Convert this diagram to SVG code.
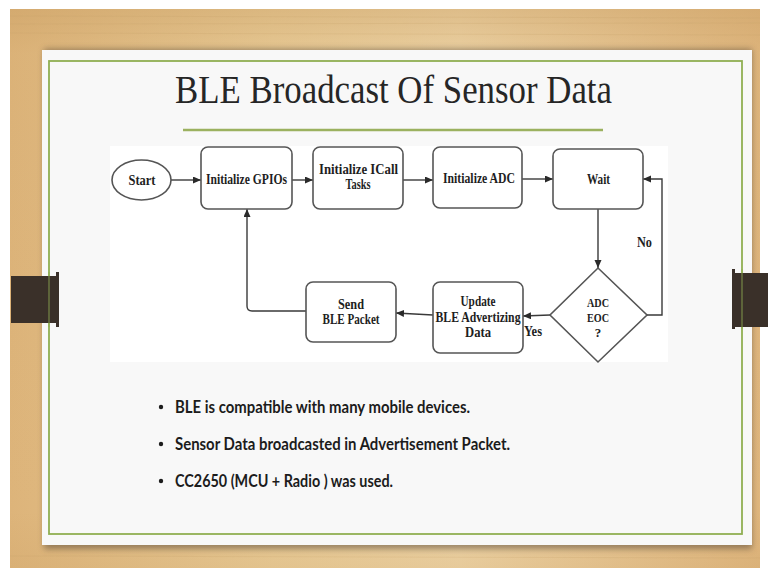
<svg xmlns="http://www.w3.org/2000/svg" width="770" height="578" viewBox="0 0 770 578">
  <defs>
    <linearGradient id="wood" x1="0" y1="0" x2="1" y2="0">
      <stop offset="0" stop-color="#ddb47a"/>
      <stop offset="0.35" stop-color="#e9cc98"/>
      <stop offset="0.6" stop-color="#eed5a8"/>
      <stop offset="1" stop-color="#dfb67e"/>
    </linearGradient>
    <linearGradient id="woodTop" x1="0" y1="0" x2="0" y2="1">
      <stop offset="0" stop-color="#c99e62" stop-opacity="0.45"/>
      <stop offset="0.08" stop-color="#c99e62" stop-opacity="0.1"/>
      <stop offset="0.9" stop-color="#c99e62" stop-opacity="0"/>
      <stop offset="1" stop-color="#c99e62" stop-opacity="0.2"/>
    </linearGradient>
    <filter id="shadow" x="-5%" y="-5%" width="110%" height="115%">
      <feGaussianBlur stdDeviation="3"/>
    </filter>
    <marker id="arrow" markerUnits="userSpaceOnUse" markerWidth="9" markerHeight="8" refX="8" refY="3.5" orient="auto">
      <path d="M0,0 L8,3.5 L0,7 z" fill="#2a2a2a"/>
    </marker>
    <style>
      .node { fill: #ffffff; stroke: #555555; stroke-width: 1.6; }
      .label { font-family: "Liberation Serif", "Times New Roman", serif; font-weight: bold; font-size: 14.5px; fill: #1e1e1e; text-anchor: middle; }
      .small { font-size: 13px; }
      .edge { fill: none; stroke: #3a3a3a; stroke-width: 1.4; }
      .bullet { font-family: Lato, "Open Sans", sans-serif; font-weight: bold; font-size: 16.5px; fill: #1c1c1c; }
      .bar { fill: #3a3029; }
    </style>
  </defs>

  <!-- wooden backdrop -->
  <rect x="0" y="0" width="770" height="578" fill="#ffffff"/>
  <rect x="10" y="9" width="750" height="559" fill="url(#wood)"/>
  <rect x="10" y="9" width="750" height="559" fill="url(#woodTop)"/>
  <g stroke="#c9a26a" stroke-opacity="0.25" stroke-width="1">
    <line x1="10" y1="16" x2="760" y2="18"/>
    <line x1="10" y1="24" x2="760" y2="23"/>
    <line x1="10" y1="33" x2="760" y2="35"/>
    <line x1="10" y1="556" x2="760" y2="558"/>
  </g>

  <!-- slide card -->
  <rect x="44" y="49" width="708" height="500" fill="#5a4a38" opacity="0.55" filter="url(#shadow)"/>
  <rect x="42" y="50" width="710" height="495" fill="#f8f8f8"/>
  <rect x="49" y="61" width="693" height="473" fill="none" stroke="#8fae52" stroke-width="1.8"/>

  <!-- side clips -->
  <rect class="bar" x="11" y="276" width="47" height="47"/>
  <rect class="bar" x="56" y="272" width="3" height="55"/>
  <rect class="bar" x="733" y="273" width="35" height="54"/>
  <rect class="bar" x="732" y="269" width="3" height="60"/>
  <line x1="49" y1="272" x2="49" y2="327" stroke="#8fae52" stroke-width="1.2" opacity="0.7"/>
  <line x1="742" y1="269" x2="742" y2="329" stroke="#8fae52" stroke-width="1.2" opacity="0.7"/>

  <!-- title -->
  <text x="393.5" y="103" font-family="Liberation Serif, 'Times New Roman', serif" font-size="40" fill="#262626" text-anchor="middle" textLength="437" lengthAdjust="spacingAndGlyphs">BLE Broadcast Of Sensor Data</text>
  <line x1="183" y1="130" x2="603" y2="130" stroke="#9bb15f" stroke-width="2.6"/>

  <!-- flowchart panel -->
  <rect x="110" y="146" width="558" height="216" fill="#ffffff"/>

  <g id="connectors">
    <line class="edge" x1="171" y1="180" x2="201" y2="180" marker-end="url(#arrow)"/>
    <line class="edge" x1="292" y1="180" x2="313" y2="180" marker-end="url(#arrow)"/>
    <line class="edge" x1="403" y1="180" x2="433" y2="180" marker-end="url(#arrow)"/>
    <line class="edge" x1="522" y1="179" x2="553" y2="179" marker-end="url(#arrow)"/>
    <line class="edge" x1="598" y1="209" x2="598" y2="268" marker-end="url(#arrow)"/>
    <path class="edge" d="M647,315 L662,315 L662,179 L643,179" marker-end="url(#arrow)"/>
    <line class="edge" x1="550" y1="315" x2="523" y2="316" marker-end="url(#arrow)"/>
    <line class="edge" x1="433" y1="315" x2="396" y2="313" marker-end="url(#arrow)"/>
    <path class="edge" d="M306,311 L252,311 Q247,311 247,306 L247,209" marker-end="url(#arrow)"/>
    <text class="label" x="644.5" y="247" textLength="15" lengthAdjust="spacingAndGlyphs">No</text>
    <text class="label" x="533" y="336" textLength="18" lengthAdjust="spacingAndGlyphs">Yes</text>
  </g>

  <g id="start">
    <ellipse class="node" cx="141.5" cy="180" rx="29.5" ry="20"/>
    <text class="label" x="142" y="185" textLength="27" lengthAdjust="spacingAndGlyphs">Start</text>
  </g>

  <g id="init-gpios">
    <rect class="node" x="201" y="147" width="91" height="62" rx="7"/>
    <text class="label" x="246.5" y="184" textLength="81" lengthAdjust="spacingAndGlyphs">Initialize GPIOs</text>
  </g>

  <g id="init-icall">
    <rect class="node" x="313" y="147" width="90" height="62" rx="7"/>
    <text class="label" x="358.5" y="174" textLength="79" lengthAdjust="spacingAndGlyphs">Initialize ICall</text>
    <text class="label" x="358" y="189" textLength="25" lengthAdjust="spacingAndGlyphs">Tasks</text>
  </g>

  <g id="init-adc">
    <rect class="node" x="433" y="147" width="89" height="61" rx="7"/>
    <text class="label" x="479" y="183" textLength="72" lengthAdjust="spacingAndGlyphs">Initialize ADC</text>
  </g>

  <g id="wait">
    <rect class="node" x="553" y="149" width="90" height="60" rx="7"/>
    <text class="label" x="598.5" y="184" textLength="23" lengthAdjust="spacingAndGlyphs">Wait</text>
  </g>

  <g id="adc-eoc">
    <polygon class="node" points="598,268 647,315 598,362 550,315"/>
    <text class="label small" x="598" y="307" textLength="22" lengthAdjust="spacingAndGlyphs">ADC</text>
    <text class="label small" x="598" y="322" textLength="22" lengthAdjust="spacingAndGlyphs">EOC</text>
    <text class="label small" x="598" y="337">?</text>
  </g>

  <g id="update-adv">
    <rect class="node" x="433" y="282" width="90" height="71" rx="7"/>
    <text class="label" x="478" y="306" textLength="35" lengthAdjust="spacingAndGlyphs">Update</text>
    <text class="label" x="478" y="322" textLength="85" lengthAdjust="spacingAndGlyphs">BLE Advertizing</text>
    <text class="label" x="478" y="337" textLength="26" lengthAdjust="spacingAndGlyphs">Data</text>
  </g>

  <g id="send-packet">
    <rect class="node" x="306" y="282" width="90" height="60" rx="7"/>
    <text class="label" x="351" y="309" textLength="26" lengthAdjust="spacingAndGlyphs">Send</text>
    <text class="label" x="351" y="324" textLength="57" lengthAdjust="spacingAndGlyphs">BLE Packet</text>
  </g>

  <!-- bullet list -->
  <g id="notes">
    <circle cx="161" cy="407" r="2.2" fill="#1c1c1c"/>
    <circle cx="161" cy="444" r="2.2" fill="#1c1c1c"/>
    <circle cx="161" cy="481" r="2.2" fill="#1c1c1c"/>
    <text class="bullet" x="175" y="412.5" textLength="295" lengthAdjust="spacingAndGlyphs">BLE is compatible with many mobile devices.</text>
    <text class="bullet" x="175" y="449.5" textLength="335" lengthAdjust="spacingAndGlyphs">Sensor Data broadcasted in Advertisement Packet.</text>
    <text class="bullet" x="175" y="486.5" textLength="218" lengthAdjust="spacingAndGlyphs">CC2650 (MCU + Radio ) was used.</text>
  </g>
</svg>
